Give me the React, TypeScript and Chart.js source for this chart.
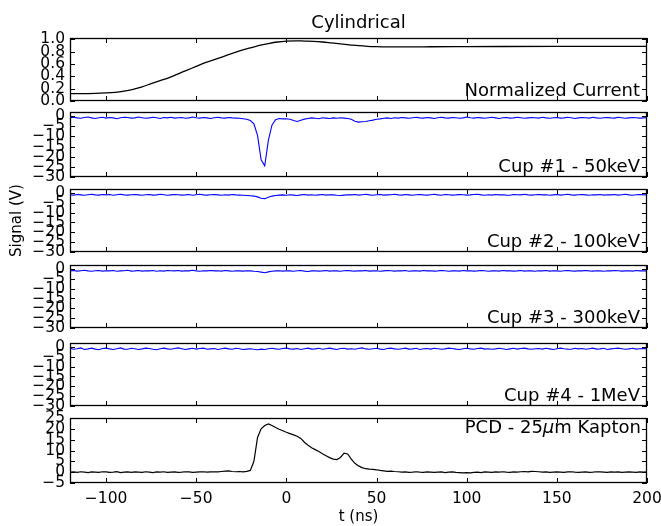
import React, { useEffect, useRef } from 'react';
import { Chart, registerables } from 'chart.js';
Chart.register(...registerables);

// ---- data ----
const T0 = -120; // first sample time (ns)
const DT = 2; // sample spacing (ns)
const X_MIN = -120;
const X_MAX = 200;
const X_TICKS = [-100, -50, 0, 50, 100, 150, 200];
const CURRENT_TICKS = [0, 0.2, 0.4, 0.6, 0.8, 1.0];
const CUP_TICKS = [-30, -25, -20, -15, -10, -5, 0];
const PCD_TICKS = [-5, 0, 5, 10, 15, 20, 25];

const CURRENT_T = [-120, -110, -100, -95, -90, -85, -80, -75, -70, -65, -60, -55, -50, -45, -40, -35, -30, -25, -20, -15, -10, -5, 0, 5, 10, 15, 20, 25, 30, 35, 40, 45, 50, 60, 70, 80, 100, 120, 150, 200];
const CURRENT = [0.12, 0.12, 0.13, 0.14, 0.16, 0.19, 0.23, 0.28, 0.33, 0.38, 0.44, 0.50, 0.56, 0.62, 0.67, 0.72, 0.77, 0.82, 0.86, 0.90, 0.93, 0.955, 0.97, 0.975, 0.97, 0.965, 0.955, 0.94, 0.925, 0.91, 0.895, 0.885, 0.88, 0.875, 0.875, 0.878, 0.88, 0.882, 0.884, 0.885];

const CUP1 = [
  -0.8, -0.6, -0.9, -1.1, -0.7, -0.5, -0.9, -1.2, -0.8, -0.6,
  -1.0, -0.7, -0.9, -1.3, -0.8, -0.6, -0.7, -1.0, -0.9, -0.5,
  -0.8, -1.1, -0.9, -0.6, -0.8, -1.2, -0.7, -0.9, -0.6, -1.0,
  -0.8, -0.7, -1.1, -0.9, -0.5, -0.8, -1.0, -0.7, -0.9, -1.2,
  -0.8, -0.6, -0.9, -1.0, -0.7, -0.9, -1.0,
  -1.1, -1.3, -1.6, -2.2, -3.8, -9.5, -21.5, -24.5, -12.0, -4.5,
  -1.8, -1.2, -1.4, -1.3, -1.6, -2.2, -2.7, -2.1, -1.5,
  -1.2, -0.9, -1.1, -1.3, -0.8, -1.0, -1.2, -0.9, -1.1, -0.8, -1.0, -1.2,
  -1.6, -2.6, -3.0, -2.8, -2.7, -2.3, -2.0, -1.6, -1.4,
  -1.1, -0.9, -1.2, -0.8, -1.0, -0.7, -0.9, -1.1, -0.8, -0.6,
  -0.9, -1.0, -0.7, -0.9, -1.2, -0.8, -0.6, -0.9, -1.0, -0.7,
  -0.8, -1.1, -0.9, -0.5, -0.8, -1.0, -0.7, -0.9, -1.1, -0.8,
  -0.6, -0.9, -1.2, -0.8, -0.7, -1.0, -0.9, -0.6, -0.8, -1.1,
  -0.9, -0.7, -0.8, -1.0, -0.6, -0.9, -1.1, -0.8, -0.7, -1.0,
  -0.9, -0.6, -0.8, -1.2, -0.9, -0.7, -0.8, -1.0, -0.6, -0.9,
  -1.1, -0.8, -0.7, -0.9, -1.0, -0.6, -0.8, -1.1, -0.9, -0.7,
  -0.8, -1.0, -0.9, -0.8,
];

const CUP2 = [
  -0.9, -1.1, -0.8, -1.0, -1.2, -0.9, -0.7, -1.0, -1.1, -0.8,
  -1.0, -0.8, -1.2, -0.9, -0.7, -1.0, -1.1, -0.9, -0.8, -1.0,
  -1.2, -0.9, -0.8, -1.1, -1.0, -0.7, -0.9, -1.2, -1.0, -0.8,
  -0.9, -1.1, -1.0, -0.8, -1.2, -0.9, -0.7, -1.0, -1.1, -0.9,
  -0.8, -1.0, -1.2, -0.9, -1.1, -0.8, -1.0, -1.1, -1.2, -1.3,
  -1.4, -1.6, -2.0, -2.7, -2.9, -2.2, -1.6, -1.3, -1.1, -1.0,
  -1.2, -0.9, -1.1, -1.3, -1.0, -0.8, -1.1, -0.9, -1.2, -1.0,
  -0.8, -1.1, -0.9, -1.0, -1.2, -1.3, -1.1, -0.9, -1.0, -0.8,
  -1.1, -0.9, -0.7, -1.0, -1.2, -0.9, -0.8, -1.1, -1.0, -0.9,
  -0.7, -1.0, -1.1, -0.8, -1.0, -1.2, -0.9, -0.8, -1.0, -1.1,
  -0.9, -0.7, -1.0, -1.2, -0.8, -0.9, -1.1, -1.0, -0.8, -0.9,
  -1.1, -1.0, -0.8, -0.7, -1.0, -1.2, -0.9, -1.1, -0.8, -1.0,
  -0.9, -1.1, -1.2, -0.8, -0.9, -1.0, -0.7, -1.0, -1.1, -0.9,
  -0.8, -1.0, -0.9, -1.2, -1.0, -0.8, -1.1, -0.9, -0.7, -1.0,
  -1.1, -0.9, -0.8, -1.0, -1.2, -0.9, -1.0, -0.8, -1.1, -0.9,
  -1.0, -0.8, -1.1, -0.9, -0.7, -1.0, -1.2, -0.9, -0.8, -1.0,
  -0.9,
];

const CUP3 = [
  -1.0, -0.8, -1.1, -0.9, -0.7, -1.0, -1.2, -0.9, -0.8, -1.1,
  -0.9, -1.0, -0.8, -1.2, -1.0, -0.9, -0.7, -1.1, -1.0, -0.8,
  -1.1, -0.9, -1.0, -0.8, -1.2, -0.9, -1.1, -0.8, -0.9, -1.0,
  -0.8, -1.1, -0.9, -1.0, -0.7, -1.0, -1.2, -0.9, -1.0, -0.8,
  -1.0, -0.9, -1.1, -0.8, -1.0, -1.2, -0.9, -1.0, -1.1, -0.9,
  -1.0, -1.2, -1.3, -1.6, -1.9, -1.5, -1.2, -1.0, -0.9, -1.1,
  -0.9, -1.0, -1.2, -0.9, -0.8, -1.1, -1.3, -1.0, -0.9, -1.1,
  -1.0, -0.8, -1.1, -0.9, -1.0, -1.2, -0.9, -0.8, -1.0, -1.1,
  -0.9, -1.0, -0.8, -1.1, -1.0, -0.9, -1.2, -1.0, -0.8, -0.9,
  -1.1, -0.9, -1.0, -0.8, -1.2, -1.0, -0.9, -1.1, -0.8, -1.0,
  -0.9, -1.1, -1.0, -0.8, -0.9, -1.2, -1.0, -0.9, -1.1, -0.8,
  -1.0, -0.9, -1.1, -1.0, -0.8, -0.9, -1.2, -1.0, -0.9, -1.1,
  -0.8, -1.0, -0.9, -1.1, -1.0, -0.8, -1.1, -0.9, -1.0, -1.2,
  -0.9, -1.0, -0.8, -1.1, -0.9, -1.0, -1.2, -0.9, -0.8, -1.0,
  -1.1, -0.9, -1.0, -0.8, -1.0, -1.1, -0.9, -1.0, -1.2, -0.9,
  -1.0, -0.8, -0.9, -1.1, -1.0, -0.9, -1.1, -0.8, -1.0, -0.9,
  -1.0,
];

const CUP4 = [
  -0.7, -1.2, -0.9, -0.5, -1.3, -1.0, -0.6, -1.1, -1.4, -0.8,
  -0.6, -1.0, -1.3, -0.9, -0.5, -1.1, -1.2, -0.7, -0.9, -1.3,
  -1.0, -0.6, -0.8, -1.2, -1.4, -0.9, -0.6, -1.0, -1.2, -0.8,
  -0.5, -0.9, -1.3, -1.0, -0.7, -1.1, -0.8, -0.6, -1.2, -1.0,
  -0.8, -1.3, -0.9, -0.6, -1.0, -1.2, -0.7, -0.9, -1.3, -1.1,
  -0.9, -1.2, -1.4, -1.1, -1.3, -0.9, -0.7, -1.0, -1.2, -0.8,
  -0.6, -1.0, -1.1, -0.8, -1.3, -0.9, -0.6, -1.1, -1.0, -0.7,
  -1.2, -0.9, -0.6, -1.0, -1.3, -0.8, -0.7, -1.1, -0.9, -1.2,
  -0.8, -0.5, -1.0, -1.2, -0.9, -0.7, -1.1, -1.3, -0.8, -0.6,
  -1.0, -1.2, -0.9, -0.6, -1.1, -1.0, -0.7, -1.3, -0.9, -0.8,
  -1.1, -0.7, -0.9, -1.2, -1.0, -0.6, -0.8, -1.1, -1.3, -0.9,
  -0.7, -1.0, -1.2, -0.8, -0.6, -1.1, -0.9, -1.2, -1.0, -0.7,
  -0.9, -1.3, -1.0, -0.7, -1.1, -0.8, -0.6, -1.0, -1.2, -0.9,
  -0.8, -1.1, -0.7, -1.0, -1.3, -0.9, -0.6, -0.9, -1.1, -1.2,
  -0.7, -1.0, -0.8, -1.2, -0.9, -0.6, -1.1, -1.0, -0.7, -1.3,
  -1.0, -0.8, -0.6, -0.9, -1.2, -1.0, -0.7, -1.1, -0.9, -0.8,
  -1.0,
];

const PCD = [
  0.0, 0.1, -0.1, 0.2, 0.0, -0.2, 0.1, 0.0, -0.1, 0.2,
  0.1, -0.1, 0.0, 0.2, -0.2, 0.0, 0.1, -0.1, 0.1, 0.0,
  -0.1, 0.2, 0.0, -0.2, 0.1, 0.0, 0.2, -0.1, 0.0, 0.1,
  -0.1, 0.0, 0.2, 0.1, -0.1, 0.0, 0.1, 0.2, 0.0, 0.1,
  0.2, 0.1, 0.3, 0.5, 0.6, 0.3, 0.2, 0.3, 0.1, 0.4,
  0.8, 5.0, 16.0, 20.0, 21.5, 22.3, 21.5, 20.6, 19.8, 19.1,
  18.4, 17.8, 17.2, 16.6, 15.6, 13.8, 12.4, 11.3, 10.4, 9.5,
  8.5, 7.6, 6.7, 6.0, 5.8, 6.8, 8.8, 8.4, 6.0, 4.1,
  2.9, 2.1, 1.6, 1.4, 1.3, 1.1, 0.8, 0.6, 0.4, 0.5,
  0.3,
  0.2, 0.0, 0.1, -0.1, 0.0, 0.2, 0.0, -0.1, 0.1, 0.0,
  -0.1, 0.0, 0.1, -0.2, 0.0, 0.1, -0.1, -0.2, -0.3, -0.2,
  -0.3, -0.1, 0.0, -0.2, 0.1, 0.0, -0.1, 0.1, 0.0, 0.2,
  0.0, -0.1, 0.1, 0.0, 0.2, 0.3, 0.1, 0.4, 0.3, 0.2,
  0.0, 0.1, -0.1, 0.0, 0.1, 0.0, -0.1, 0.1, 0.2, 0.0,
  -0.1, 0.0, 0.1, -0.1, 0.0, 0.2, 0.1, 0.0, -0.1, 0.1,
  0.0, 0.1, -0.1, 0.0, 0.1, 0.0, -0.1, 0.1, 0.0, 0.1,
];

const PANEL_LABELS = ['Normalized Current', 'Cup #1 - 50keV', 'Cup #2 - 100keV', 'Cup #3 - 300keV', 'Cup #4 - 1MeV'];
const TITLE = 'Cylindrical';
const Y_LABEL = 'Signal (V)';
const X_LABEL = 't (ns)';

// ---- layout / style ----
const W = 661;
const H = 526;
const FONT = '"DejaVu Sans", sans-serif';
const FAMILY = 'DejaVu Sans';
const TICK_SIZE = 15.5;
const PLOT_LEFT = 70;
const PLOT_RIGHT_PAD = 14;
const TOPS = [38, 112, 189, 265, 343, 418];
const BOTTOMS = [101, 177, 252, 328, 406, 483];

const sampled = (arr: number[]) => arr.map((v, i) => ({ x: T0 + i * DT, y: v }));
const minus = (v: number) => (v < 0 ? '\u2212' + Math.abs(v) : String(v));

type PanelCfg = {
  points: { x: number; y: number }[];
  color: string;
  lw: number;
  yMin: number;
  yMax: number;
  yTicks: number[];
  fmt: (v: number) => string;
  label?: string;
  pcd?: boolean;
  title?: boolean;
  yTitle?: boolean;
  bottom?: boolean;
  monotone?: boolean;
};

const PANELS: PanelCfg[] = [
  { points: CURRENT_T.map((t, i) => ({ x: t, y: CURRENT[i] })), color: '#000', lw: 1.3, yMin: 0, yMax: 1.02, yTicks: CURRENT_TICKS, fmt: (v) => v.toFixed(1), label: PANEL_LABELS[0], title: true, monotone: true },
  { points: sampled(CUP1), color: '#0000ff', lw: 1.1, yMin: -30, yMax: 2, yTicks: CUP_TICKS, fmt: minus, label: PANEL_LABELS[1] },
  { points: sampled(CUP2), color: '#0000ff', lw: 1.1, yMin: -30, yMax: 2, yTicks: CUP_TICKS, fmt: minus, label: PANEL_LABELS[2], yTitle: true },
  { points: sampled(CUP3), color: '#0000ff', lw: 1.1, yMin: -30, yMax: 2, yTicks: CUP_TICKS, fmt: minus, label: PANEL_LABELS[3] },
  { points: sampled(CUP4), color: '#0000ff', lw: 1.1, yMin: -30, yMax: 2, yTicks: CUP_TICKS, fmt: minus, label: PANEL_LABELS[4] },
  { points: sampled(PCD), color: '#000', lw: 1.2, yMin: -5, yMax: 25, yTicks: PCD_TICKS, fmt: minus, pcd: true, bottom: true },
];

const decorPlugin = (cfg: PanelCfg) => ({
  id: 'decor',
  afterDraw(chart: any) {
    const { ctx, chartArea } = chart;
    const { left, right, top, bottom } = chartArea;
    const xs = chart.scales.x;
    const ys = chart.scales.y;
    ctx.save();
    ctx.strokeStyle = '#000';
    ctx.lineWidth = 1;
    ctx.beginPath();
    xs.ticks.forEach((t: any) => {
      const p = Math.round(xs.getPixelForValue(t.value)) + 0.5;
      ctx.moveTo(p, bottom);
      ctx.lineTo(p, bottom - 5);
      ctx.moveTo(p, top);
      ctx.lineTo(p, top + 5);
    });
    ys.ticks.forEach((t: any) => {
      const p = Math.round(ys.getPixelForValue(t.value)) + 0.5;
      ctx.moveTo(left, p);
      ctx.lineTo(left + 5, p);
      ctx.moveTo(right, p);
      ctx.lineTo(right - 5, p);
    });
    ctx.stroke();
    ctx.lineWidth = 1.3;
    ctx.strokeRect(left + 0.5, top + 0.5, right - left - 1, bottom - top - 1);

    ctx.fillStyle = '#000';
    ctx.textAlign = 'right';
    ctx.textBaseline = 'alphabetic';
    ctx.font = `18px ${FONT}`;
    if (cfg.label) {
      ctx.fillText(cfg.label, right - 7, bottom - 5);
    }
    if (cfg.pcd) {
      let xr = right - 6;
      const yb = top + 15;
      const parts: [string, string][] = [
        ['m Kapton', `18px ${FONT}`],
        ['\u03bc', `italic 18px ${FONT}`],
        ['PCD - 25', `18px ${FONT}`],
      ];
      parts.forEach(([s, f]) => {
        ctx.font = f;
        ctx.fillText(s, xr, yb);
        xr -= ctx.measureText(s).width;
      });
    }
    if (cfg.title) {
      ctx.font = `18px ${FONT}`;
      ctx.textAlign = 'center';
      ctx.fillText(TITLE, (left + right) / 2, top - 10);
    }
    ctx.restore();
  },
});

function buildConfig(cfg: PanelCfg, idx: number): any {
  const isBottom = !!cfg.bottom;
  return {
    type: 'line',
    data: {
      datasets: [
        {
          data: cfg.points,
          borderColor: cfg.color,
          borderWidth: cfg.lw,
          pointRadius: 0,
          fill: false,
          tension: 0,
          cubicInterpolationMode: cfg.monotone ? 'monotone' : 'default',
        },
      ],
    },
    options: {
      responsive: false,
      animation: false,
      events: [],
      layout: {
        padding: {
          left: 0,
          right: PLOT_RIGHT_PAD,
          top: TOPS[idx],
          bottom: isBottom ? 0 : H - BOTTOMS[idx],
        },
      },
      plugins: { legend: { display: false }, tooltip: { enabled: false }, title: { display: false } },
      scales: {
        x: {
          type: 'linear',
          min: X_MIN,
          max: X_MAX,
          afterBuildTicks: (s: any) => {
            s.ticks = X_TICKS.map((v) => ({ value: v }));
          },
          afterFit: (s: any) => {
            s.height = isBottom ? H - BOTTOMS[idx] : 0;
            s.paddingLeft = 0;
            s.paddingRight = 0;
          },
          grid: { display: false, drawTicks: false },
          border: { display: false },
          ticks: {
            display: isBottom,
            autoSkip: false,
            maxRotation: 0,
            padding: 7,
            color: '#000',
            font: { family: FAMILY, size: TICK_SIZE },
            callback: (v: number) => minus(v),
          },
          title: {
            display: isBottom,
            text: X_LABEL,
            color: '#000',
            font: { family: FAMILY, size: 15 },
            padding: { top: 0, bottom: 0 },
          },
        },
        y: {
          type: 'linear',
          min: cfg.yMin,
          max: cfg.yMax,
          afterBuildTicks: (s: any) => {
            s.ticks = cfg.yTicks.map((v) => ({ value: v }));
          },
          afterFit: (s: any) => {
            s.width = PLOT_LEFT;
            s.paddingTop = 0;
            s.paddingBottom = 0;
          },
          grid: { display: false, drawTicks: false },
          border: { display: false },
          ticks: {
            autoSkip: false,
            padding: 5,
            color: '#000',
            font: { family: FAMILY, size: TICK_SIZE },
            callback: (v: number) => cfg.fmt(v),
          },
          title: {
            display: !!cfg.yTitle,
            text: Y_LABEL,
            color: '#000',
            font: { family: FAMILY, size: 15 },
            padding: { top: 8, bottom: 0 },
          },
        },
      },
    },
    plugins: [decorPlugin(cfg)],
  };
}

function Panel({ cfg, idx }: { cfg: PanelCfg; idx: number }) {
  const ref = useRef<HTMLCanvasElement | null>(null);
  useEffect(() => {
    if (!ref.current) return;
    const chart = new Chart(ref.current, buildConfig(cfg, idx));
    return () => chart.destroy();
  }, [cfg, idx]);
  return (
    <canvas
      ref={ref}
      width={W}
      height={H}
      style={{ position: 'absolute', left: 0, top: 0, width: W, height: H }}
    />
  );
}

export default function App() {
  return (
    <div style={{ position: 'fixed', left: 0, top: 0, width: W, height: H, background: '#fff', overflow: 'hidden' }}>
      {PANELS.map((p, i) => (
        <Panel key={i} cfg={p} idx={i} />
      ))}
    </div>
  );
}
